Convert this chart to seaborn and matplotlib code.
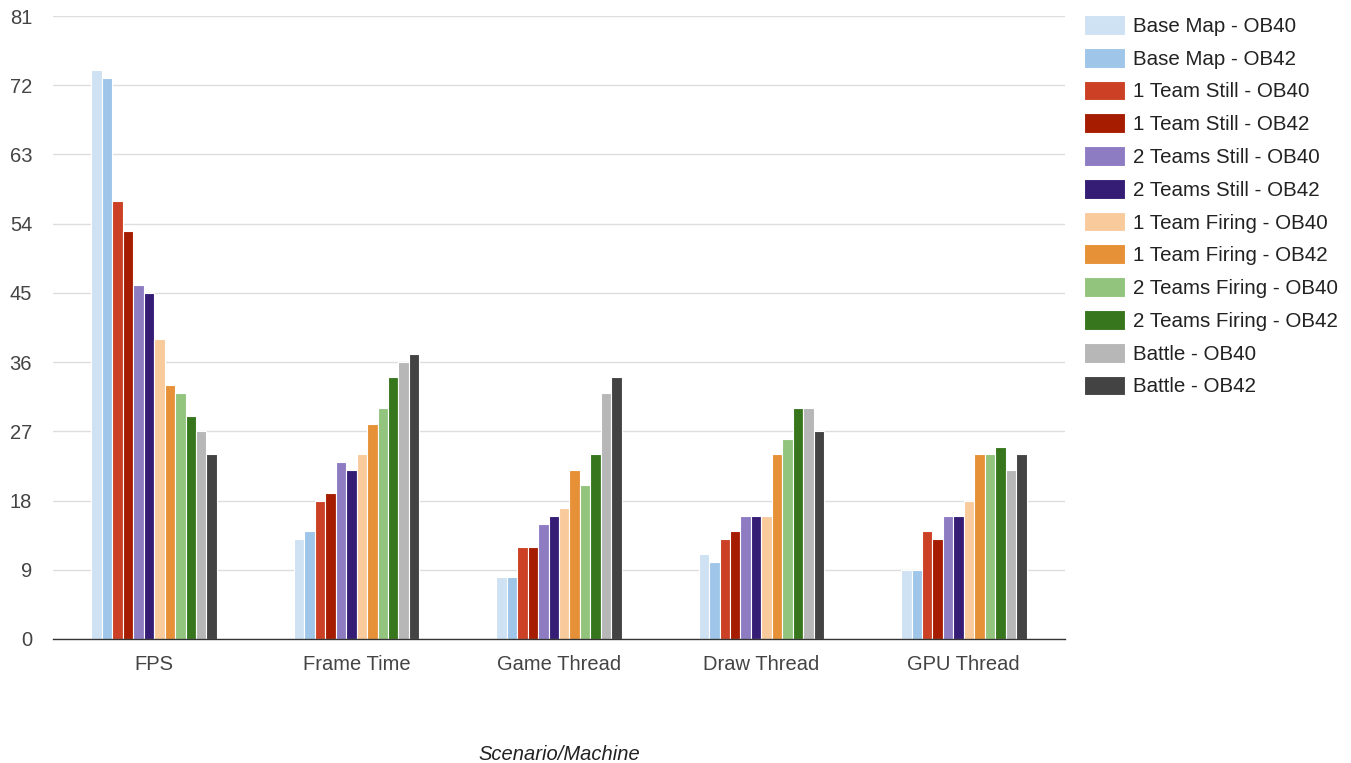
import numpy as np
import pandas as pd
import matplotlib
matplotlib.use("Agg")
import matplotlib.pyplot as plt
import seaborn as sns

# Metrics (x categories)
metrics = ["FPS", "Frame Time", "Game Thread", "Draw Thread", "GPU Thread"]

# Scenario / machine series
series = [
    "Base Map - OB40", "Base Map - OB42",
    "1 Team Still - OB40", "1 Team Still - OB42",
    "2 Teams Still - OB40", "2 Teams Still - OB42",
    "1 Team Firing - OB40", "1 Team Firing - OB42",
    "2 Teams Firing - OB40", "2 Teams Firing - OB42",
    "Battle - OB40", "Battle - OB42",
]

# Values per series, in metric order
base_map_ob40 = [74, 13, 8, 11, 9]
base_map_ob42 = [73, 14, 8, 10, 9]
one_team_still_ob40 = [57, 18, 12, 13, 14]
one_team_still_ob42 = [53, 19, 12, 14, 13]
two_teams_still_ob40 = [46, 23, 15, 16, 16]
two_teams_still_ob42 = [45, 22, 16, 16, 16]
one_team_firing_ob40 = [39, 24, 17, 16, 18]
one_team_firing_ob42 = [33, 28, 22, 24, 24]
two_teams_firing_ob40 = [32, 30, 20, 26, 24]
two_teams_firing_ob42 = [29, 34, 24, 30, 25]
battle_ob40 = [27, 36, 32, 30, 22]
battle_ob42 = [24, 37, 34, 27, 24]

values = [
    base_map_ob40, base_map_ob42,
    one_team_still_ob40, one_team_still_ob42,
    two_teams_still_ob40, two_teams_still_ob42,
    one_team_firing_ob40, one_team_firing_ob42,
    two_teams_firing_ob40, two_teams_firing_ob42,
    battle_ob40, battle_ob42,
]

colors = [
    "#cfe2f3", "#9fc5e8",
    "#cc4125", "#a61c00",
    "#8e7cc3", "#351c75",
    "#f9cb9c", "#e69138",
    "#93c47d", "#38761d",
    "#b7b7b7", "#434343",
]

y_ticks = [0, 9, 18, 27, 36, 45, 54, 63, 72, 81]

df = pd.DataFrame(
    [(m, s, v) for s, vals in zip(series, values) for m, v in zip(metrics, vals)],
    columns=["metric", "series", "value"],
)

sns.set_theme(style="white")
plt.rcParams["font.family"] = ["Liberation Sans", "DejaVu Sans"]

fig = plt.figure(figsize=(13.51, 7.63), dpi=100)
W, H = 1351, 763
ax = fig.add_axes([53 / W, 1 - 639 / H, (1065 - 53) / W, (639 - 16) / H])

sns.barplot(
    data=df, x="metric", y="value", hue="series",
    order=metrics, hue_order=series, palette=colors,
    width=0.62, saturation=1, edgecolor="white", linewidth=0.8,
    errorbar=None, ax=ax,
)

ax.set_ylim(0, 81)
ax.set_xlim(-0.5, len(metrics) - 0.5)
ax.set_yticks(y_ticks)
ax.set_yticklabels([str(t) for t in y_ticks])
ax.yaxis.grid(True, color="#dedede", linewidth=1)
ax.set_axisbelow(True)
for side in ["top", "right", "left"]:
    ax.spines[side].set_visible(False)
ax.spines["bottom"].set_color("#333333")
ax.spines["bottom"].set_linewidth(1)

ax.tick_params(axis="y", length=0, pad=15, labelsize=14.5, labelcolor="#444444")
ax.tick_params(axis="x", length=0, pad=11.5, labelsize=14.5, labelcolor="#444444")

ax.set_ylabel("")
ax.set_xlabel("Scenario/Machine", fontsize=14.5, style="italic", color="#222222")
ax.xaxis.set_label_coords(0.5, -(754 - 639) / (639 - 16))
ax.xaxis.label.set_va("center")

handles, labels = ax.get_legend_handles_labels()
ax.legend(
    handles, labels,
    loc="upper left", bbox_to_anchor=(1084 / W, 1 - 15 / H),
    bbox_transform=fig.transFigure,
    frameon=False, fontsize=14.8, labelcolor="#222222",
    handlelength=2.0, handleheight=1.1, handletextpad=0.4,
    labelspacing=0.58, borderpad=0, borderaxespad=0,
)

fig.savefig("out.png", dpi=100, facecolor="white")
